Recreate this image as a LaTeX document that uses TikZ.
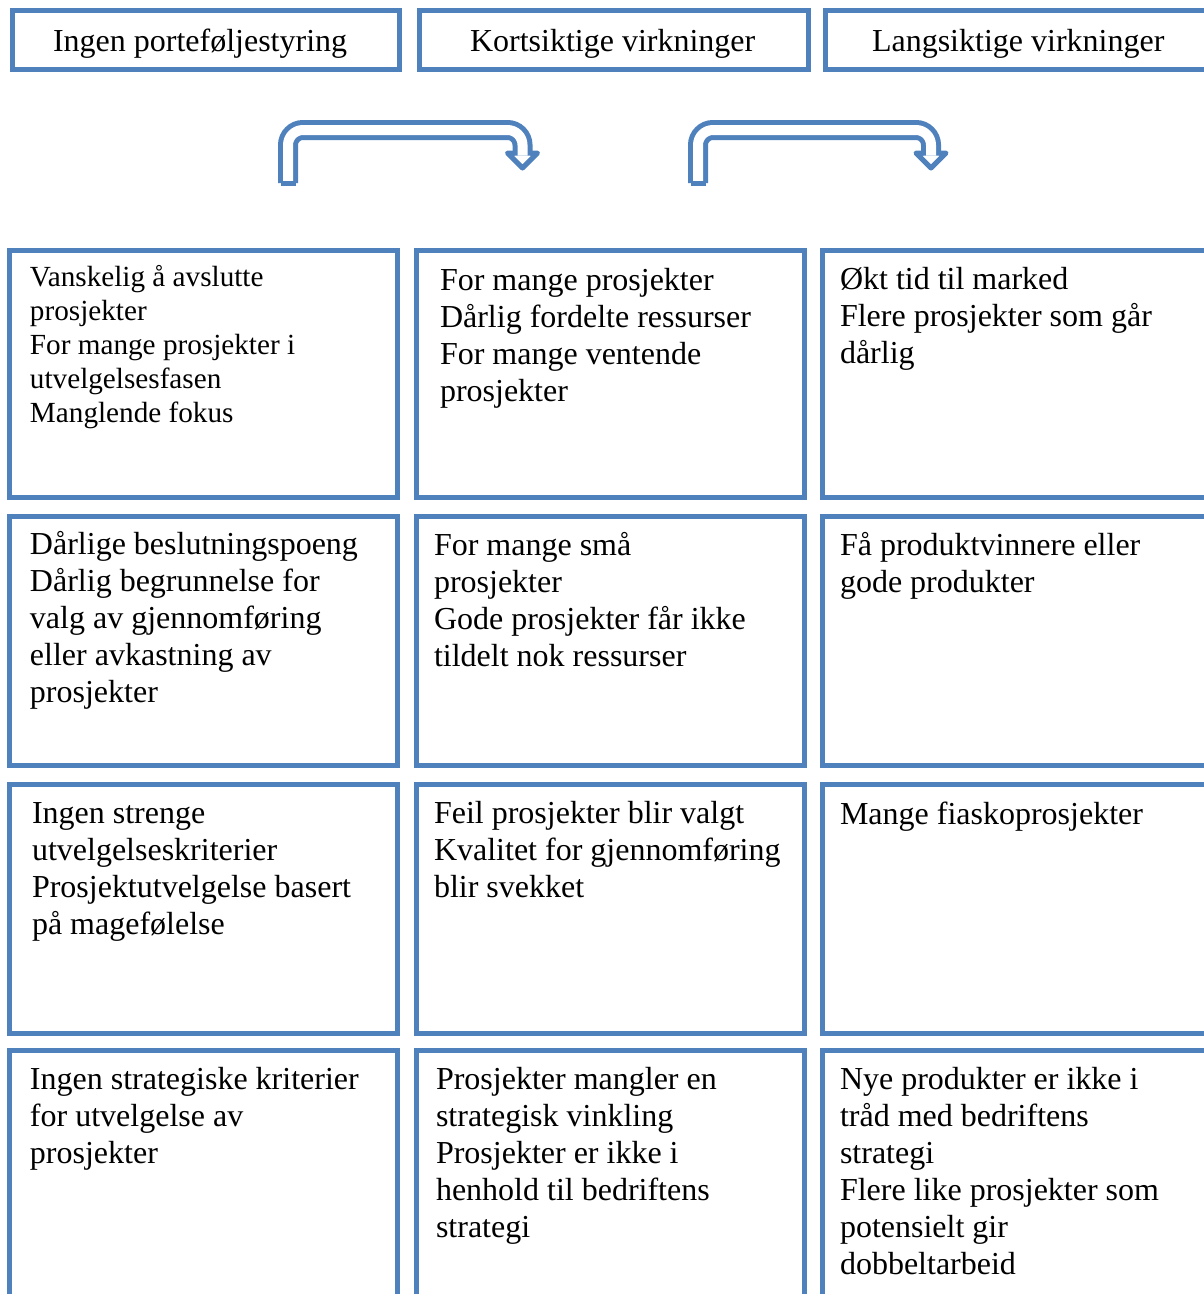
\documentclass[tikz,border=0pt]{standalone}
\usepackage{fontspec}
\setmainfont{Liberation Serif}
\definecolor{frameblue}{HTML}{4F81BD}
\tikzset{
  cell/.style={draw=frameblue, line width=5pt, fill=white, rectangle,
               inner sep=0pt, outer sep=0pt, anchor=north west},
  txt/.style={anchor=north west, inner sep=0pt, outer sep=0pt, align=left,
              font=\fontsize{32}{37}\selectfont},
  smalltxt/.style={txt, font=\fontsize{29.2}{34}\selectfont},
  headtxt/.style={anchor=base west, inner sep=0pt, outer sep=0pt,
                  font=\fontsize{32}{37}\selectfont},
  bentband/.style={draw=frameblue, line width=5pt, double=white,
                   double distance=10pt, rounded corners=15pt},
  bentfoot/.style={draw=frameblue, line width=5pt, line cap=square},
  benthead/.style={draw=frameblue, line width=5pt, line join=round}
}
\begin{document}
\begin{tikzpicture}[x=1pt, y=-1pt]
\clip (0,0) rectangle (1204,1294);

% column headings
\node[cell, minimum width=387.5pt, minimum height=59pt] (h1) at (12,10) {};
\node[cell, minimum width=389pt,   minimum height=59pt] (h2) at (419,10) {};
\node[cell, minimum width=390pt,   minimum height=59pt] (h3) at (825.5,10) {};
\node[headtxt] (h1t) at (53,51)  {Ingen porteføljestyring};
\node[headtxt] (h2t) at (470,51) {Kortsiktige virkninger};
\node[headtxt] (h3t) at (872,51) {Langsiktige virkninger};

% bent block arrows between the headings
\draw[bentband] (288,183) -- (288,130) -- (522.5,130) -- (522.5,155.5);
\draw[bentfoot] (280.5,183) -- (295.5,183);
\draw[benthead] (515,153) -- (507.5,153) -- (522.5,168) -- (537.5,153) -- (530,153);

\draw[bentband] (698,183) -- (698,130) -- (931,130) -- (931,155.5);
\draw[bentfoot] (690.5,183) -- (705.5,183);
\draw[benthead] (923.5,153) -- (916,153) -- (931,168) -- (946,153) -- (938.5,153);

% grid of cells
\node[cell, minimum width=388pt, minimum height=247.5pt] (c11) at (9.5,250) {};
\node[cell, minimum width=388pt, minimum height=247.5pt] (c12) at (416,250) {};
\node[cell, minimum width=393pt, minimum height=247.5pt] (c13) at (822,250) {};

\node[cell, minimum width=388pt, minimum height=249pt] (c21) at (9.5,516) {};
\node[cell, minimum width=388pt, minimum height=249pt] (c22) at (416,516) {};
\node[cell, minimum width=393pt, minimum height=249pt] (c23) at (822,516) {};

\node[cell, minimum width=388pt, minimum height=249pt] (c31) at (9.5,784) {};
\node[cell, minimum width=388pt, minimum height=249pt] (c32) at (416,784) {};
\node[cell, minimum width=393pt, minimum height=249pt] (c33) at (822,784) {};

\node[cell, minimum width=388pt, minimum height=260pt] (c41) at (9.5,1050) {};
\node[cell, minimum width=388pt, minimum height=260pt] (c42) at (416,1050) {};
\node[cell, minimum width=393pt, minimum height=260pt] (c43) at (822,1050) {};

% cell texts (first baseline = top + 0.7 baselineskip)
\node[smalltxt] (t11) at (30,262.2) {\strut Vanskelig å avslutte\\prosjekter\\For mange prosjekter i\\utvelgelsesfasen\\Manglende fokus};
\node[txt] (t12) at (440,264.1) {\strut For mange prosjekter\\Dårlig fordelte ressurser\\For mange ventende\\prosjekter};
\node[txt] (t13) at (840,263.1) {\strut Økt tid til marked\\Flere prosjekter som går\\dårlig};

\node[txt] (t21) at (30,528.1) {\strut Dårlige beslutningspoeng\\Dårlig begrunnelse for\\valg av gjennomføring\\eller avkastning av\\prosjekter};
\node[txt] (t22) at (434,529.1) {\strut For mange små\\prosjekter\\Gode prosjekter får ikke\\tildelt nok ressurser};
\node[txt] (t23) at (840,529.1) {\strut Få produktvinnere eller\\gode produkter};

\node[txt] (t31) at (32,797.1) {\strut Ingen strenge\\utvelgelseskriterier\\Prosjektutvelgelse basert\\på magefølelse};
\node[txt] (t32) at (434,797.1) {\strut Feil prosjekter blir valgt\\Kvalitet for gjennomføring\\blir svekket};
\node[txt] (t33) at (840,798.1) {\strut Mange fiaskoprosjekter};

\node[txt] (t41) at (30,1063.1) {\strut Ingen strategiske kriterier\\for utvelgelse av\\prosjekter};
\node[txt] (t42) at (436,1063.1) {\strut Prosjekter mangler en\\strategisk vinkling\\Prosjekter er ikke i\\henhold til bedriftens\\strategi};
\node[txt] (t43) at (840,1063.1) {\strut Nye produkter er ikke i\\tråd med bedriftens\\strategi\\Flere like prosjekter som\\potensielt gir\\dobbeltarbeid};
\end{tikzpicture}
\end{document}
